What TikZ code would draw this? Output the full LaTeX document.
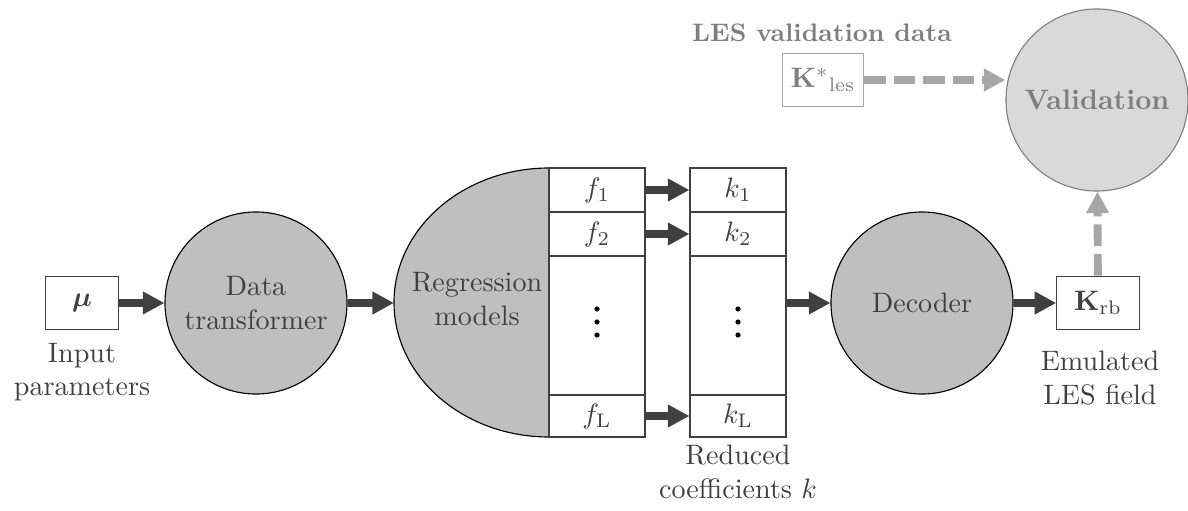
\documentclass[tikz,border=0pt]{standalone}
\usepackage{amsmath,amssymb,bm}
\usetikzlibrary{arrows.meta}
\definecolor{ink}{HTML}{404040}
\definecolor{fillgray}{HTML}{BFBFBF}
\definecolor{palegray}{HTML}{D9D9D9}
\definecolor{midgray}{HTML}{7F7F7F}
\definecolor{dashgray}{HTML}{A6A6A6}
\tikzset{
  flow/.style={draw=ink, line width=2.8pt, -{Triangle[length=0.27cm,width=0.27cm]}},
  check/.style={draw=dashgray, line width=2.8pt, dash pattern=on 0.27cm off 0.1cm,
    -{Triangle[length=0.27cm,width=0.27cm]}},
  blob/.style={circle, draw=black, fill=fillgray, minimum size=2.275cm, inner sep=0pt,
    align=center, text=ink},
  cell/.style={draw=ink, minimum width=1.2cm, inner sep=0pt, text=ink},
  tag/.style={align=center, text=ink},
  term/.style={draw=ink, minimum height=0.67cm, inner sep=0pt, text=ink},
}
\begin{document}
\begin{tikzpicture}[x=0.0125cm, y=0.0125cm]
  \useasboundingbox (0,0) rectangle (1188,510);
  \node[term, minimum width=0.91cm] (mu) at (82,207) {$\bm{\mu}$};
  \node[tag] (mulabel) at (82,138) {Input\\parameters};
  \node[blob] (transf) at (256,207) {Data\\transformer};
  \fill[fillgray] (549,342) arc[start angle=90, end angle=270, x radius=155, y radius=134.5] -- cycle;
  \draw[black] (549,342) arc[start angle=90, end angle=270, x radius=155, y radius=134.5];
  \coordinate (regin) at (394,207);
  \node[text=ink, align=center] (regr) at (477,211) {Regression\\models};
  \foreach \col/\x in {f/597, k/738} {
    \node[cell, minimum height=0.55cm] (\col1) at (\x,320) {$\col_1$};
    \node[cell, minimum height=0.55cm] (\col2) at (\x,276) {$\col_2$};
    \node[cell, minimum height=1.7375cm] (\col dots) at (\x,184.5) {};
    \node[cell, minimum height=0.525cm] (\col L) at (\x,94) {$\col_{\mathrm{L}}$};
    \foreach \y in {175, 188, 201}
      \fill (\x,\y) circle [radius=2.6];
  }
  \node[tag] (klabel) at (738,38) {Reduced\\coefficients $k$};
  \node[blob] (dec) at (922,207) {Decoder};
  \node[term, minimum width=1.03cm] (krb) at (1098,207) {$\mathbf{K}_{\mathrm{rb}}$};
  \node[tag] (krblabel) at (1100,132) {Emulated\\LES field};
  \node[blob, draw=midgray, fill=palegray, text=midgray, font=\bfseries] (valid) at (1097,410) {Validation};
  \node[term, draw=dashgray, text=midgray, minimum width=1.01cm] (kles) at (823,430)
    {$\mathbf{K}^{*}{}_{\mathrm{les}}$};
  \node[tag, text=midgray, font=\bfseries\small] (klestag) at (822,477) {LES validation data};
  \draw[flow] (mu) -- (transf);
  \draw[flow] (transf) -- (regin);
  \draw[flow] (f1) -- (k1);
  \draw[flow] (f2) -- (k2);
  \draw[flow] (fL) -- (kL);
  \draw[flow] (kdots.east |- dec) -- (dec);
  \draw[flow] (dec) -- (krb);
  \draw[check] (kles) -- (kles -| valid.west);
  \draw[check] (krb) -- (valid);
\end{tikzpicture}
\end{document}
